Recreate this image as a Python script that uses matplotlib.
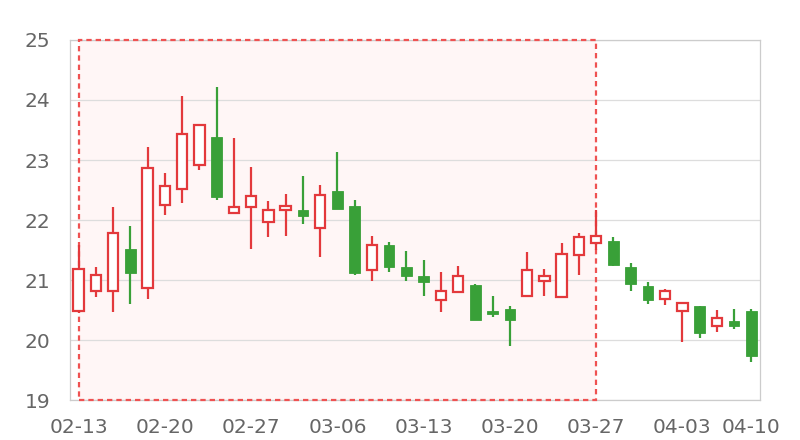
import matplotlib
matplotlib.use("Agg")
import matplotlib.pyplot as plt
from matplotlib.patches import Rectangle

dates = ["02-13", "02-14", "02-15", "02-16", "02-17",
         "02-20", "02-21", "02-22", "02-23", "02-24",
         "02-27", "02-28", "03-01", "03-02", "03-03",
         "03-06", "03-07", "03-08", "03-09", "03-10",
         "03-13", "03-14", "03-15", "03-16", "03-17",
         "03-20", "03-21", "03-22", "03-23", "03-24",
         "03-27", "03-28", "03-29", "03-30", "03-31",
         "04-03", "04-04", "04-06", "04-07", "04-10"]

opens = [20.48, 20.81, 20.82, 21.51, 20.87, 22.25, 22.52, 22.91, 23.38, 22.12,
         22.21, 21.97, 22.16, 22.17, 21.87, 22.48, 22.23, 21.16, 21.58, 21.22,
         21.07, 20.67, 20.80, 20.92, 20.49, 20.51, 20.73, 20.98, 20.72, 21.41,
         21.62, 21.65, 21.22, 20.90, 20.69, 20.49, 20.56, 20.24, 20.32, 20.48]
closes = [21.18, 21.08, 21.78, 21.11, 22.87, 22.56, 23.44, 23.59, 22.39, 22.22,
          22.40, 22.17, 22.24, 22.06, 22.41, 22.19, 21.11, 21.58, 21.22, 21.07,
          20.96, 20.81, 21.07, 20.33, 20.44, 20.33, 21.17, 21.07, 21.44, 21.71,
          21.73, 21.25, 20.93, 20.67, 20.82, 20.61, 20.11, 20.36, 20.24, 19.74]
highs = [21.58, 21.22, 22.22, 21.90, 23.21, 22.78, 24.07, 23.59, 24.21, 23.36,
         22.89, 22.32, 22.43, 22.73, 22.59, 23.13, 22.33, 21.74, 21.64, 21.49,
         21.33, 21.14, 21.24, 20.93, 20.73, 20.57, 21.46, 21.18, 21.62, 21.79,
         22.16, 21.72, 21.29, 20.96, 20.85, 20.64, 20.57, 20.50, 20.52, 20.52]
lows = [20.45, 20.72, 20.46, 20.60, 20.68, 22.09, 22.29, 22.83, 22.34, 22.12,
        21.52, 21.72, 21.74, 21.93, 21.39, 22.19, 21.09, 20.98, 21.14, 20.98,
        20.74, 20.47, 20.80, 20.33, 20.39, 19.90, 20.73, 20.74, 20.72, 21.09,
        21.50, 21.23, 20.82, 20.60, 20.58, 19.96, 20.04, 20.13, 20.18, 19.64]

area_start, area_end = "02-13", "03-27"
tick_idx = [0, 5, 10, 15, 20, 25, 30, 35, 39]

up_color = "#e3393c"
down_color = "#39a038"
text_color = "#666666"

fig = plt.figure(figsize=(8, 4.4), dpi=100)
ax = fig.add_axes([70 / 800, 40 / 440, 690 / 800, 360 / 440])

x = list(range(len(dates)))
ax.set_xlim(-0.5, len(dates) - 0.5)
ax.set_ylim(19, 25)

# highlighted area
i0, i1 = dates.index(area_start), dates.index(area_end)
y0, y1 = ax.get_ylim()
ax.add_patch(Rectangle((i0, y0), i1 - i0, y1 - y0,
    facecolor="#fff6f6", edgecolor="none", zorder=0.2))
ax.add_patch(Rectangle((i0, y0), i1 - i0, y1 - y0,
    facecolor="none", edgecolor="#ef5252", linewidth=1.6,
    linestyle=(0, (2.4, 1.8)), zorder=2.7, clip_on=False))

for i in x:
    up = closes[i] >= opens[i]
    col = up_color if up else down_color
    ax.vlines(i, lows[i], highs[i], color=col, linewidth=1.6, zorder=2.8)
    lo, hi = min(opens[i], closes[i]), max(opens[i], closes[i])
    ax.bar(i, max(hi - lo, 0.02), bottom=lo, width=0.6,
        facecolor="white" if up else col,
        edgecolor=col,
        linewidth=1.6 if up else 0.6,
        zorder=3)

ax.set_yticks(range(19, 26))
ax.set_xticks(tick_idx)
ax.set_xticklabels([dates[i] for i in tick_idx])
ax.grid(True, axis="y", color="#dddddd", linewidth=0.9)
ax.set_axisbelow(True)
for s in ax.spines.values():
    s.set_color("#cccccc")
    s.set_linewidth(0.9)
ax.tick_params(axis="both", length=0, colors=text_color, labelsize=14.5)
ax.tick_params(axis="x", pad=13)
ax.tick_params(axis="y", pad=14)

fig.savefig("out.png", dpi=100)
